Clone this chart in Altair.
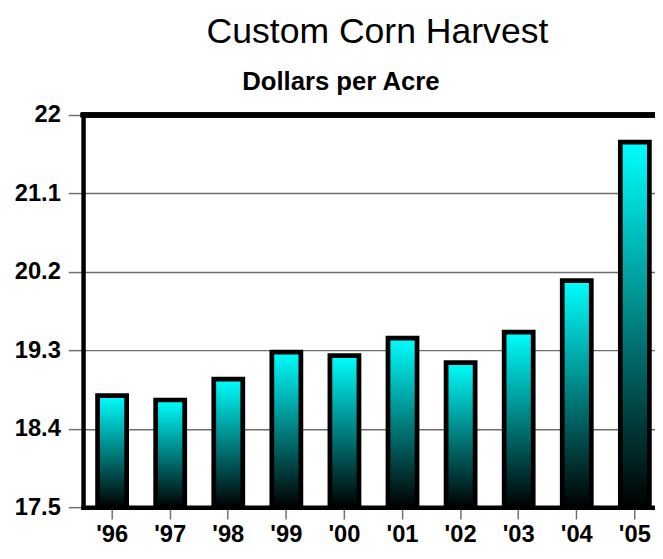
import altair as alt
import pandas as pd

TITLE = "Custom Corn Harvest"
SUBTITLE = "Dollars per Acre"
years = ["'96", "'97", "'98", "'99", "'00", "'01", "'02", "'03", "'04", "'05"]
values = [18.78, 18.73, 18.97, 19.28, 19.24, 19.44, 19.16, 19.51, 20.10, 21.69]
y_ticks = [17.5, 18.4, 19.3, 20.2, 21.1, 22.0]
y_min, y_max = 17.5, 22.0

df = pd.DataFrame({"year": years, "value": values})

W, H = 579, 397
FONT = "Liberation Sans"

x_enc = alt.X(
    "year:N",
    sort=years,
    scale=alt.Scale(range=[0, 588], paddingInner=0.5, paddingOuter=0.25),
    axis=alt.Axis(
        title=None, labelAngle=0, labelFont=FONT, labelFontSize=24, labelFontWeight="bold",
        labelColor="black", labelBaseline="alphabetic", labelPadding=23,
        tickSize=12, tickColor="#707070", tickWidth=1.5,
        domainColor="black", domainWidth=4.5, domainCap="square", grid=False,
    ),
)
y_enc = alt.Y(
    "value:Q",
    scale=alt.Scale(domain=[y_min, y_max], zero=False, nice=False),
    axis=alt.Axis(
        title=None, values=y_ticks, labelExpr="format(datum.value, '.1~f')",
        labelFont=FONT, labelFontSize=24, labelFontWeight="bold", labelColor="black",
        labelPadding=8, tickSize=15, tickColor="#707070", tickWidth=1.5,
        domainColor="black", domainWidth=4.5, domainCap="square",
        grid=True, gridColor="#6e6e6e", gridWidth=1.5,
    ),
)

gradient = alt.Gradient(
    gradient="linear",
    x1=0, y1=0, x2=0, y2=1,
    stops=[alt.GradientStop(color="#00FFFF", offset=0),
           alt.GradientStop(color="#000000", offset=1)],
)

bars = alt.Chart(df).mark_bar(
    fill=gradient, stroke="black", strokeWidth=4.8, strokeJoin="miter"
).encode(x=x_enc, y=y_enc, y2=alt.datum(y_min))

top_line = alt.Chart(df).mark_rule(color="black", strokeWidth=4.5, strokeCap="square").encode(
    x=alt.value(0), x2=alt.value(620), y=alt.value(0)
)

title = alt.Chart(pd.DataFrame({"t": [TITLE]})).mark_text(
    font=FONT, fontSize=36, color="black", align="center", baseline="alphabetic"
).encode(text="t:N", x=alt.value(298), y=alt.value(-73))

subtitle = alt.Chart(pd.DataFrame({"t": [SUBTITLE]})).mark_text(
    font=FONT, fontSize=26, fontWeight="bold", color="black", align="center", baseline="alphabetic"
).encode(text="t:N", x=alt.value(261), y=alt.value(-25))

chart = alt.layer(bars, top_line, title, subtitle).properties(
    width=W, height=H,
    autosize=alt.AutoSizeParams(type="none"),
    padding={"left": 76, "top": 105, "right": 0, "bottom": 41},
).configure_view(stroke=None)

chart.save("out.html", embed_options={"renderer": "svg", "actions": False})
